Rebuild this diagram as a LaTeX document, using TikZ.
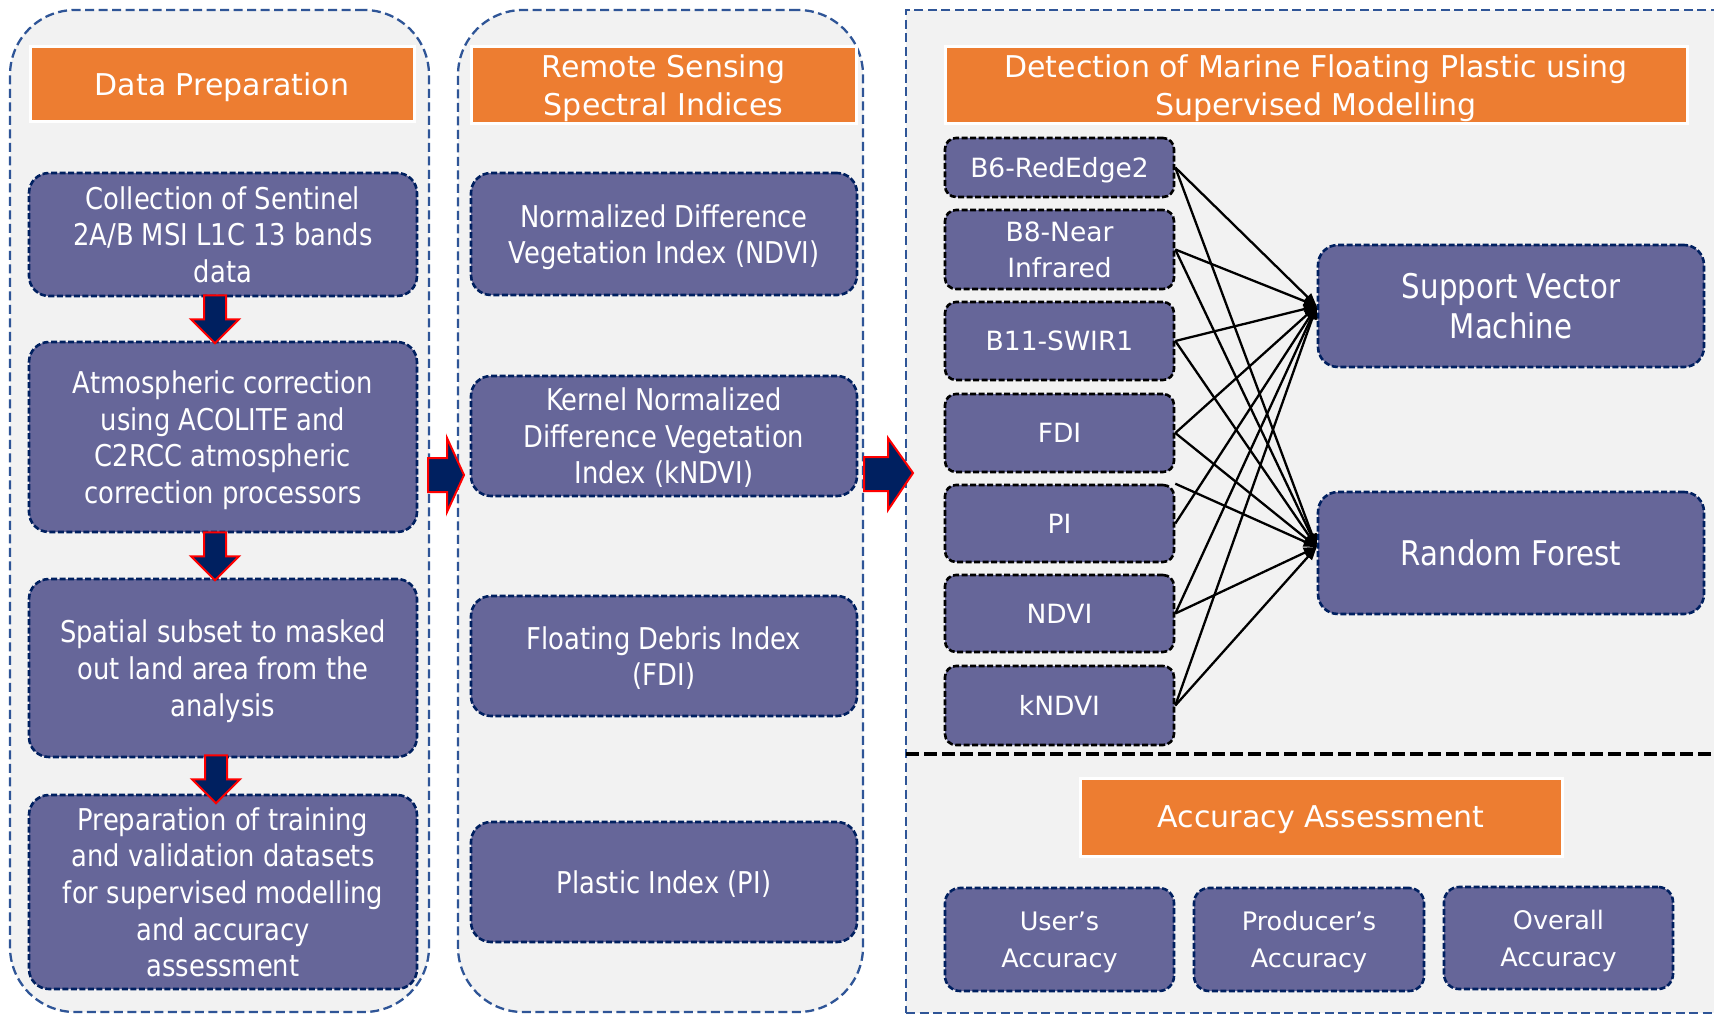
\documentclass[tikz,border=0pt]{standalone}
\usepackage{fontspec}
\setmainfont{DejaVu Sans}
\newfontfamily\narrowfont{DejaVu Sans}[FakeStretch=0.86]
\usepackage{tikz}
\usetikzlibrary{arrows.meta}
\definecolor{panelblue}{RGB}{47, 85, 151}
\definecolor{panelgray}{RGB}{242, 242, 242}
\definecolor{headorange}{RGB}{237, 125, 49}
\definecolor{boxpurple}{RGB}{102, 102, 153}
\definecolor{boxnavy}{RGB}{0, 32, 96}
\definecolor{arrowred}{RGB}{255, 0, 0}

\tikzset{
    panel/.style={fill=panelgray, draw=panelblue, line width=2.3pt, dash pattern=on 9pt off 4.5pt},
    header/.style={fill=headorange, draw=white, line width=3pt, text=white, align=center, inner sep=0pt,
        font=\fontsize{30}{38}\selectfont, text depth=-2pt},
    stepbox/.style={fill=boxpurple, draw=boxnavy, line width=2.6pt, dash pattern=on 6pt off 2.5pt,
        rounded corners=20pt, text=white, align=center, inner sep=0pt,
        font=\narrowfont\fontsize{30}{36.6}\selectfont, text depth=0pt},
    bandbox/.style={stepbox, draw=black, rounded corners=11pt, font=\fontsize{26.5}{36}\selectfont},
    modelbox/.style={stepbox, font=\narrowfont\fontsize{34}{40}\selectfont, text depth=-3pt},
    accbox/.style={stepbox, rounded corners=15pt, font=\fontsize{25.5}{37}\selectfont, text depth=-5pt},
    blockarrow/.style={fill=boxnavy, draw=arrowred, line width=2pt},
    link/.style={draw=black, line width=2.3pt, -{Triangle[length=13pt,width=10pt]}},
    pics/downblock/.style={code={
        \filldraw[blockarrow] (-11,0) -- (11,0) -- (11,24) -- (24,24) -- (0,48) -- (-24,24) -- (-11,24) -- cycle;
    }}
}

\begin{document}
\begin{tikzpicture}[x=1pt, y=-1pt]
    \useasboundingbox (0,0) rectangle (1714,1014);
    \fill[white] (0,0) rectangle (1714,1014);
    \clip (0,0) rectangle (1714,1014);

    % panels
    \node[panel, rounded corners=65pt, minimum width=419pt, minimum height=1002pt] (lpanel) at (219.5,511) {};
    \node[panel, rounded corners=65pt, minimum width=405pt, minimum height=1002pt] (mpanel) at (660.5,511) {};
    \node[panel, minimum width=830pt, minimum height=1003pt] (rpanel) at (1321,511.5) {};

    % headers
    \node[header, minimum width=384pt, minimum height=75pt] (hprep) at (222,84.5) {Data Preparation};
    \node[header, minimum width=385pt, minimum height=77pt] (hindex) at (663.5,85.5) {Remote Sensing\\Spectral Indices};
    \node[header, minimum width=742pt, minimum height=77pt] (hdetect) at (1316,85.5) {Detection of Marine Floating Plastic using\\Supervised Modelling};
    \node[header, minimum width=482pt, minimum height=78pt] (hacc) at (1321,817) {Accuracy Assessment};

    % data preparation
    \node[stepbox, minimum width=388pt, minimum height=123pt] (prep1) at (223,234.5) {Collection of Sentinel\\2A/B MSI L1C 13 bands\\data};
    \node[stepbox, minimum width=388pt, minimum height=190pt] (prep2) at (223,437) {Atmospheric correction\\using ACOLITE and\\C2RCC atmospheric\\correction processors};
    \node[stepbox, minimum width=388pt, minimum height=178pt] (prep3) at (223,668) {Spatial subset to masked\\out land area from the\\analysis};
    \node[stepbox, minimum width=388pt, minimum height=194pt] (prep4) at (223,892) {Preparation of training\\and validation datasets\\for supervised modelling\\and accuracy\\assessment};
    \pic at ([xshift=-8pt,yshift=2pt]prep1.south) {downblock};
    \pic at ([xshift=-8pt,yshift=1pt]prep2.south) {downblock};
    \pic at ([xshift=-7pt,yshift=3pt]prep3.south) {downblock};

    % spectral indices
    \node[stepbox, minimum width=386pt, minimum height=122pt] (ndvi) at (664,234) {Normalized Difference\\Vegetation Index (NDVI)};
    \node[stepbox, minimum width=386pt, minimum height=120pt] (kndvi) at (664,436) {Kernel Normalized\\Difference Vegetation\\Index (kNDVI)};
    \node[stepbox, minimum width=386pt, minimum height=120pt] (fdi) at (664,656) {Floating Debris Index\\(FDI)};
    \node[stepbox, minimum width=386pt, minimum height=120pt] (pi) at (664,882) {Plastic Index (PI)};

    % between the panels
    \filldraw[blockarrow] (428,458) -- (447,458) -- (447,438) -- (464,475) -- (447,512) -- (447,492) -- (428,492) -- cycle;
    \filldraw[blockarrow] (864,457) -- (888,457) -- (888,438) -- (913,473) -- (888,510) -- (888,491) -- (864,491) -- cycle;

    % inputs
    \node[bandbox, minimum width=229pt, minimum height=59pt] (b6) at (1059.5,167.5) {B6-RedEdge2};
    \node[bandbox, minimum width=229pt, minimum height=79pt] (b8) at (1059.5,249.5) {B8-Near\\Infrared};
    \node[bandbox, minimum width=229pt, minimum height=78pt] (b11) at (1059.5,341) {B11-SWIR1};
    \node[bandbox, minimum width=229pt, minimum height=78pt] (fdiin) at (1059.5,433) {FDI};
    \node[bandbox, minimum width=229pt, minimum height=77pt] (piin) at (1059.5,523.5) {PI};
    \node[bandbox, minimum width=229pt, minimum height=77pt] (ndviin) at (1059.5,613.5) {NDVI};
    \node[bandbox, minimum width=229pt, minimum height=79pt] (kndviin) at (1059.5,705.5) {kNDVI};

    % models
    \node[modelbox, minimum width=386pt, minimum height=122pt] (svm) at (1511,306) {Support Vector\\Machine};
    \node[modelbox, minimum width=386pt, minimum height=122pt] (rf) at (1511,553) {Random Forest};

    \foreach \src in {b6,b8,b11,fdiin,ndviin,kndviin} {
        \draw[link] (\src.east) -- (svm.west);
        \draw[link] (\src.east) -- ([yshift=6pt]rf.west);
    }
    \draw[link] (piin.east) -- (svm.west);
    \draw[link] (piin.north east) -- ([yshift=6pt]rf.west);

    \draw[line width=3.5pt, dash pattern=on 13pt off 5pt] (906,754) -- (1714,754);

    % accuracy
    \node[accbox, minimum width=229pt, minimum height=103pt] (users) at (1059.5,939.5) {User’s\\Accuracy};
    \node[accbox, minimum width=230pt, minimum height=103pt] (producers) at (1309,939.5) {Producer’s\\Accuracy};
    \node[accbox, minimum width=229pt, minimum height=102pt] (overall) at (1558.5,938) {Overall\\Accuracy};
\end{tikzpicture}
\end{document}
